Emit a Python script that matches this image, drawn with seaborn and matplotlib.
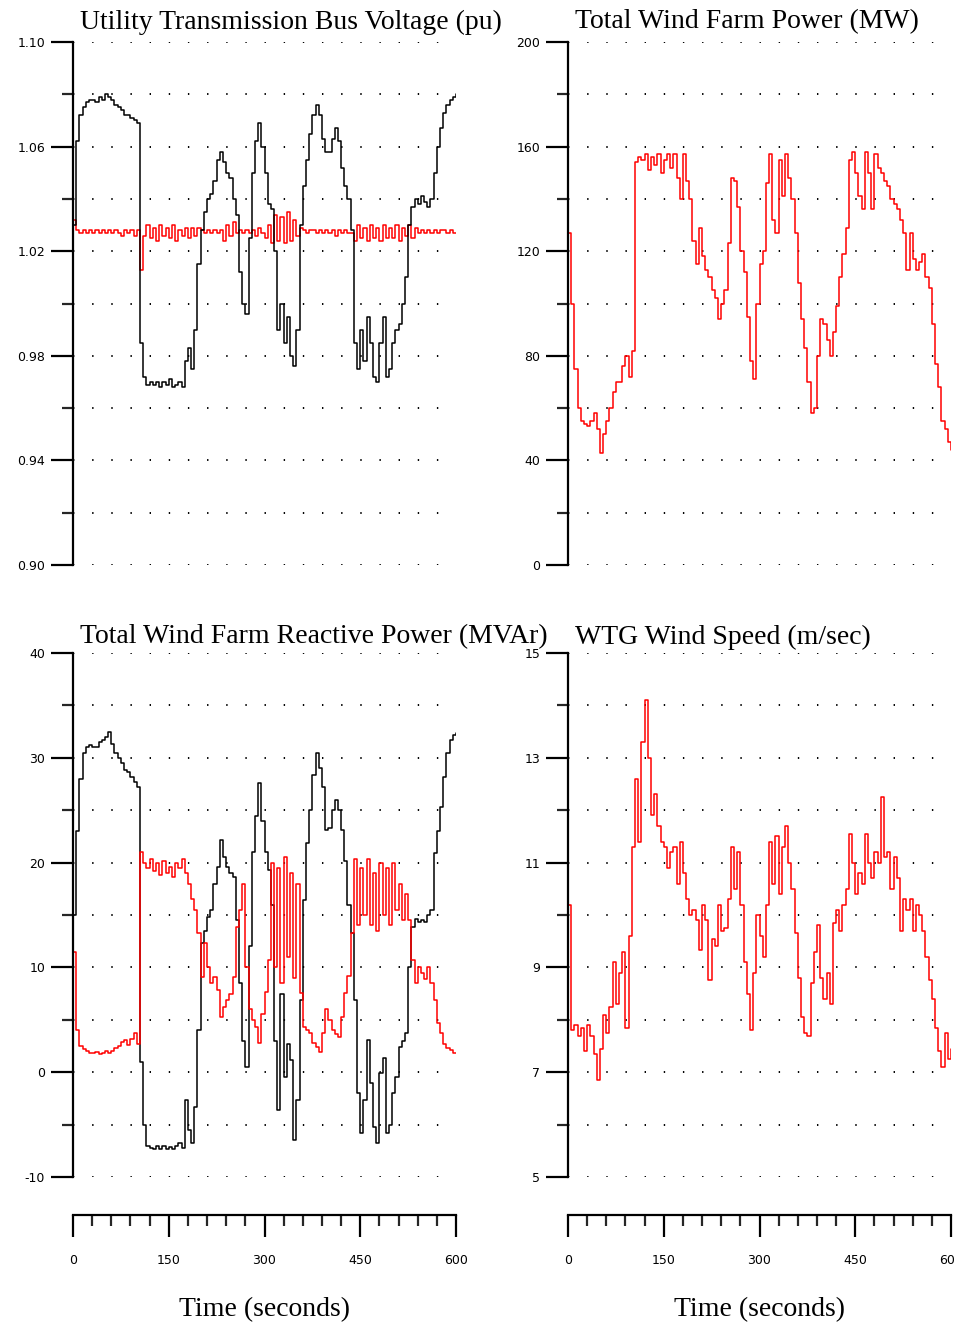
import numpy as np
import pandas as pd
import matplotlib
matplotlib.use("Agg")
import matplotlib.pyplot as plt
from matplotlib.ticker import MultipleLocator, FixedLocator, FormatStrFormatter
import seaborn as sns

# sample times (s) shared by all traces
time_s = np.arange(0, 605, 5)

# utility transmission bus voltage (pu) - black
bus_v_black = [
    1.030, 1.062, 1.072, 1.075, 1.077, 1.078, 1.078, 1.077, 1.079, 1.078, 1.080, 1.079,
    1.078, 1.076, 1.075, 1.074, 1.072, 1.072, 1.071, 1.070, 1.069, 0.985, 0.972, 0.969,
    0.970, 0.969, 0.970, 0.968, 0.970, 0.969, 0.971, 0.968, 0.969, 0.970, 0.968, 0.978,
    0.983, 0.975, 0.990, 1.015, 1.028, 1.035, 1.040, 1.042, 1.047, 1.055, 1.058, 1.054,
    1.050, 1.048, 1.040, 1.034, 1.012, 1.000, 0.996, 1.025, 1.050, 1.062, 1.069, 1.060,
    1.050, 1.038, 1.036, 1.020, 0.990, 1.000, 0.985, 0.995, 0.980, 0.976, 0.990, 1.030,
    1.045, 1.055, 1.065, 1.072, 1.076, 1.072, 1.063, 1.058, 1.058, 1.063, 1.067, 1.062,
    1.052, 1.045, 1.040, 1.028, 0.985, 0.975, 0.990, 0.978, 0.995, 0.985, 0.972, 0.970,
    0.985, 0.995, 0.972, 0.975, 0.985, 0.990, 0.992, 1.000, 1.010, 1.030, 1.037, 1.040,
    1.038, 1.041, 1.039, 1.037, 1.040, 1.050, 1.060, 1.067, 1.073, 1.076, 1.078, 1.079,
    1.080,
]
# utility transmission bus voltage (pu) - red
bus_v_red = [
    1.032, 1.028, 1.027, 1.028, 1.027, 1.028, 1.027, 1.028, 1.027, 1.028, 1.027, 1.028,
    1.027, 1.028, 1.027, 1.026, 1.028, 1.027, 1.028, 1.026, 1.028, 1.013, 1.026, 1.030,
    1.025, 1.029, 1.024, 1.030, 1.026, 1.029, 1.025, 1.030, 1.024, 1.028, 1.026, 1.029,
    1.025, 1.029, 1.026, 1.029, 1.028, 1.027, 1.028, 1.027, 1.028, 1.027, 1.028, 1.024,
    1.030, 1.026, 1.031, 1.027, 1.028, 1.027, 1.028, 1.027, 1.028, 1.026, 1.029, 1.027,
    1.025, 1.030, 1.023, 1.034, 1.024, 1.033, 1.023, 1.035, 1.024, 1.032, 1.026, 1.029,
    1.028, 1.027, 1.028, 1.028, 1.027, 1.028, 1.027, 1.028, 1.027, 1.028, 1.026, 1.028,
    1.027, 1.028, 1.027, 1.027, 1.024, 1.030, 1.025, 1.029, 1.024, 1.030, 1.025, 1.029,
    1.024, 1.030, 1.025, 1.029, 1.025, 1.030, 1.024, 1.029, 1.026, 1.030, 1.025, 1.029,
    1.027, 1.028, 1.027, 1.028, 1.027, 1.028, 1.027, 1.028, 1.028, 1.027, 1.028, 1.027,
    1.027,
]
# total wind farm power (MW)
farm_mw = [
    127, 100, 75, 60, 55, 54, 53, 55, 58, 52, 43, 50,
    55, 60, 66, 70, 70, 76, 80, 72, 82, 154, 156, 155,
    157, 151, 156, 153, 157, 150, 155, 157, 152, 157, 148, 140,
    157, 147, 140, 124, 115, 129, 118, 113, 110, 105, 102, 94,
    100, 105, 123, 148, 147, 137, 120, 112, 95, 78, 71, 100,
    115, 120, 146, 157, 132, 127, 155, 141, 157, 148, 140, 127,
    108, 94, 83, 70, 58, 60, 80, 94, 92, 86, 80, 89,
    99, 110, 119, 129, 155, 158, 150, 141, 136, 158, 150, 136,
    157, 152, 150, 147, 145, 140, 138, 136, 132, 127, 113, 127,
    117, 113, 116, 119, 110, 106, 92, 77, 68, 55, 52, 47,
    44,
]
# total wind farm reactive power (MVAr) - black
farm_mvar_black = [
    15, 23, 28, 30.5, 31, 31.2, 31, 31, 31.5, 31.7, 32, 32.5,
    31.3, 30.5, 30, 29.5, 28.8, 28.6, 28.2, 27.7, 27.2, 1, -5, -7,
    -7.2, -7.3, -7, -7.3, -7, -7.3, -7.1, -7.3, -7, -6.8, -7.2, -2.7,
    -5.5, -6.8, -3.3, 4, 12.3, 13.5, 14.8, 15.5, 18, 19.6, 22.2, 20.5,
    19.6, 19, 18.6, 14.5, 8.5, 3, 0.5, 12, 21, 24.4, 27.6, 24,
    21, 19.3, 16, 3, -3.6, 7.5, -0.5, 2.7, 1.2, -6.5, -2.7, 6.9,
    16.4, 21.9, 25, 28.4, 30.5, 29, 27.2, 23.1, 23.3, 25, 26, 25,
    23.1, 20.2, 16, 13.3, 6.9, -2, -5.8, -2.7, 3.1, -1, -5.2, -6.8,
    -0.1, 1.4, -5.8, -5, -2, -0.5, 2.4, 3, 3.7, 10, 13.9, 14.6,
    14.3, 14.5, 14.3, 15, 15.5, 20.9, 23, 25.3, 28.2, 30.5, 31.7, 32.2,
    32.4,
]
# total wind farm reactive power (MVAr) - red
farm_mvar_red = [
    11.5, 4, 2.5, 2.2, 2, 1.8, 1.8, 1.9, 1.7, 1.8, 2, 1.8,
    2, 2.3, 2.5, 2.9, 3.1, 2.6, 3.2, 3.7, 2.7, 21, 20, 19.5,
    20.3, 19.2, 20, 18.8, 20.2, 19, 19.6, 18.6, 20, 19.5, 20.3, 19,
    18, 16.5, 15.5, 13.3, 9.1, 12.3, 10, 8.5, 9.1, 7.8, 5.3, 6.2,
    6.9, 7.5, 9.1, 13.9, 15.5, 18, 10, 6, 5, 4.3, 2.8, 5.6,
    7.7, 10.7, 20, 10, 19.5, 8.5, 20.5, 11, 19, 9, 18, 7.6,
    4.3, 4, 3.7, 2.8, 2.4, 1.9, 3.7, 6, 5, 4, 3.6, 3.4,
    5.3, 7.6, 9.2, 13.3, 20.3, 14, 19.5, 15, 20.3, 14, 19, 13.5,
    20, 15, 19.5, 14, 20, 15.5, 18, 14.5, 17, 14.5, 10.7, 8.5,
    10, 9.5, 8.9, 10, 8.5, 6.9, 4.7, 3.7, 2.7, 2.3, 2.1, 1.8,
    1.8,
]
# WTG wind speed (m/sec)
wind_ms = [
    10.2, 7.8, 7.9, 7.7, 7.85, 7.4, 7.9, 7.7, 7.35, 6.85, 7.45, 8.1,
    7.75, 8.25, 9.1, 8.3, 8.9, 9.3, 7.85, 9.6, 11.3, 12.6, 11.4, 13.3,
    14.1, 13.0, 11.9, 12.3, 11.7, 11.4, 11.3, 10.9, 11.2, 11.3, 10.6, 11.4,
    10.8, 10.3, 10.0, 10.1, 9.9, 9.33, 10.2, 9.9, 8.75, 9.55, 9.4, 10.2,
    9.7, 9.75, 10.3, 11.3, 10.5, 11.2, 10.2, 9.1, 8.5, 7.8, 8.9, 10,
    9.6, 9.2, 10.2, 11.4, 10.6, 11.5, 10.4, 11.3, 11.7, 11, 10.5, 9.65,
    8.8, 8.05, 7.75, 7.7, 8.7, 9.3, 9.8, 8.8, 8.4, 8.9, 8.3, 9.85,
    10.1, 9.7, 10.2, 10.5, 11.55, 11, 10.4, 10.8, 10.6, 11.55, 11, 10.7,
    11.2, 11.0, 12.25, 11.1, 11.2, 10.5, 11.1, 10.7, 9.7, 10.3, 10.1, 10.3,
    9.7, 10.2, 10.0, 9.7, 9.2, 8.75, 8.4, 7.85, 7.4, 7.1, 7.75, 7.25,
    7.45,
]

panel_titles = ["Utility Transmission Bus Voltage (pu)", "Total Wind Farm Power (MW)",
                "Total Wind Farm Reactive Power (MVAr)", "WTG Wind Speed (m/sec)"]
# labelled y ticks per panel
volt_ticks = [0.90, 0.94, 0.98, 1.02, 1.06, 1.10]
mw_ticks = [0, 40, 80, 120, 160, 200]
mvar_ticks = [-10, 0, 10, 20, 30, 40]
wind_ticks = [5, 7, 9, 11, 13, 15]
time_ticks = [0, 150, 300, 450, 600]
time_label = "Time (seconds)"

sns.set_theme(style="white")
plt.rcParams["font.family"] = ["DejaVu Sans"]
plt.rcParams["lines.scale_dashes"] = False

W, H = 955, 1325
fig = plt.figure(figsize=(W / 100, H / 100), dpi=100)
fig.patch.set_facecolor("white")


def px_axes(x0, x1, y0, y1):
    # pixel box (top-left origin) -> figure axes
    return fig.add_axes([x0 / W, 1 - y1 / H, (x1 - x0) / W, (y1 - y0) / H])


def style_panel(ax, ticks, fmt):
    step = ticks[1] - ticks[0]
    minors = [v + step / 2 for v in ticks[:-1]]
    ax.set_xlim(0, 600)
    ax.set_ylim(ticks[0], ticks[-1])
    ax.yaxis.set_major_locator(FixedLocator(ticks))
    ax.yaxis.set_minor_locator(FixedLocator(minors))
    ax.yaxis.set_major_formatter(FormatStrFormatter(fmt))
    ax.set_xticks([])
    for s in ["top", "right", "bottom"]:
        ax.spines[s].set_visible(False)
    ax.spines["left"].set_color("black")
    ax.spines["left"].set_linewidth(1.6)
    ax.tick_params(axis="y", which="major", direction="out", length=16, width=1.6,
                   left=True, pad=4, labelsize=9, colors="black")
    ax.tick_params(axis="y", which="minor", direction="out", length=8, width=1.6, left=True)
    ax.yaxis.grid(True, which="both", color="black", linewidth=1.4,
                  linestyle=(0, (1.0, 12.79)))
    ax.set_xlabel("")
    ax.set_ylabel("")
    ax.set_facecolor("none")


def trace(ax, y, color):
    df = pd.DataFrame({"t": time_s, "v": y})
    sns.lineplot(data=df, x="t", y="v", ax=ax, color=color, linewidth=1.1,
                 drawstyle="steps-post", estimator=None, legend=False)


LX0, LX1 = 73, 456
RX0, RX1 = 568, 951
TY0, TY1 = 42, 565
BY0, BY1 = 653, 1177

ax1 = px_axes(LX0, LX1, TY0, TY1)
trace(ax1, bus_v_red, "#ff0000")
trace(ax1, bus_v_black, "black")
style_panel(ax1, volt_ticks, "%.2f")

ax2 = px_axes(RX0, RX1, TY0, TY1)
trace(ax2, farm_mw, "#ff0000")
style_panel(ax2, mw_ticks, "%d")

ax3 = px_axes(LX0, LX1, BY0, BY1)
trace(ax3, farm_mvar_black, "black")
trace(ax3, farm_mvar_red, "#ff0000")
style_panel(ax3, mvar_ticks, "%d")

ax4 = px_axes(RX0, RX1, BY0, BY1)
trace(ax4, wind_ms, "#ff0000")
style_panel(ax4, wind_ticks, "%d")

title_font = dict(family=["Liberation Serif", "DejaVu Serif"], size=20, color="black")
fig.text(80 / W, 1 - 22 / H, panel_titles[0], ha="left", va="center", **title_font)
fig.text(575 / W, 1 - 22 / H, panel_titles[1], ha="left", va="center", **title_font)
fig.text(80 / W, 1 - 637 / H, panel_titles[2], ha="left", va="center", **title_font)
fig.text(575 / W, 1 - 637 / H, panel_titles[3], ha="left", va="center", **title_font)

# separate time axes below the bottom panels
for x0, x1 in [(LX0, LX1), (RX0, RX1)]:
    axt = px_axes(x0, x1, 1214, 1215)
    axt.set_xlim(0, 600)
    axt.set_yticks([])
    axt.set_xticks(time_ticks)
    axt.xaxis.set_minor_locator(MultipleLocator(30))
    for s in ["top", "right", "left"]:
        axt.spines[s].set_visible(False)
    axt.spines["bottom"].set_linewidth(1.6)
    axt.spines["bottom"].set_color("black")
    axt.tick_params(axis="x", which="major", direction="out", length=16, width=1.6,
                    bottom=True, pad=12, labelsize=9, colors="black")
    axt.tick_params(axis="x", which="minor", direction="out", length=8, width=1.6, bottom=True)
    axt.set_facecolor("none")
    fig.text((x0 + x1) / 2 / W, 1 - 1310 / H, time_label, ha="center", va="center",
             **title_font)

fig.savefig("out.png", dpi=100, facecolor="white")
